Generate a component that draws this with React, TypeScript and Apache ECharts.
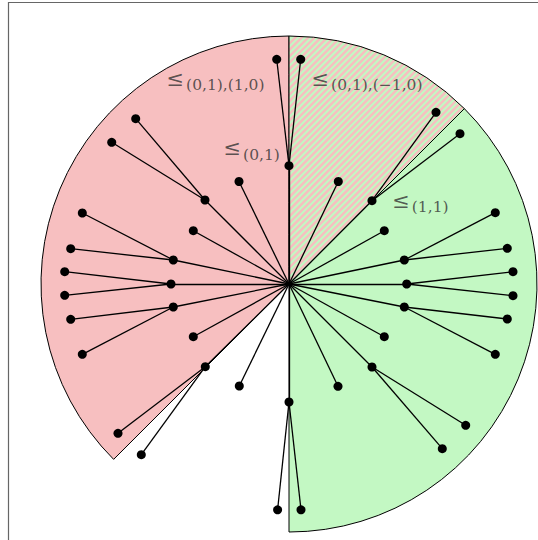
import React, { useEffect, useRef } from "react";
import * as echarts from "echarts";

// Tree nodes, in units relative to the root (y up)
const innerNodes: [number, number][] = [
  [1.177, 0], [1.153, 0.24], [0.953, 0.533], [0.83, 0.833], [0.493, 1.025],
  [0, 1.183], [-0.5, 1.025], [-0.84, 0.84], [-0.957, 0.533], [-1.157, 0.24],
  [-1.18, 0], [-1.157, -0.23], [-0.957, -0.527], [-0.837, -0.827], [-0.497, -1.02],
  [0, -1.18], [0.49, -1.023], [0.83, -0.83], [0.953, -0.527], [1.153, -0.23],
];
const leafParents: number[] = [0, 0, 1, 1, 3, 3, 5, 5, 7, 7, 9, 9, 10, 10, 11, 11, 13, 13, 15, 15, 17, 17, 19, 19];
const leafNodes: [number, number][] = [
  [2.24, 0.123], [2.24, -0.117],
  [2.183, 0.357], [2.063, 0.713],
  [1.71, 1.503], [1.47, 1.717],
  [0.117, 2.247], [-0.123, 2.247],
  [-1.533, 1.653], [-1.773, 1.417],
  [-2.067, 0.71], [-2.183, 0.353],
  [-2.243, 0.123], [-2.243, -0.113],
  [-2.183, -0.353], [-2.067, -0.703],
  [-1.71, -1.493], [-1.477, -1.707],
  [-0.114, -2.258], [0.12, -2.258],
  [1.533, -1.647], [1.767, -1.413],
  [2.063, -0.703], [2.183, -0.35],
];

// Regions (angles in degrees, counter-clockwise from +x)
const regionKinds = ["pink", "green", "hatched"];
const regionStartDeg = [90, -90, 45];
const regionEndDeg = [225, 45, 90];
const regionRadius = 2.48;

// Annotations
const labelTexts = [
  "{le|≤}{sub|(0,1),(1,0)}",
  "{le|≤}{sub|(0,1),(−1,0)}",
  "{le|≤}{sub|(0,1)}",
  "{le|≤}{sub|(1,1)}",
];
const labelX = [-1.225, 0.225, -0.655, 1.032];
const labelY = [2.05, 2.05, 1.355, 0.828];

const PINK = "#f7bfc0";
const GREEN = "#c3f8c3";

export default function App() {
  const ref = useRef<HTMLDivElement>(null);
  useEffect(() => {
    if (!ref.current) return;
    const chart = echarts.init(ref.current, null, { renderer: "svg" });

    const edges: any[] = [];
    innerNodes.forEach((n) => edges.push({ coords: [[0, 0], n] }));
    leafNodes.forEach((n, i) => edges.push({ coords: [innerNodes[leafParents[i]], n] }));

    const stripePeriod = 0.064;
    const stripeWidth = 0.034;

    const renderRegion = (params: any, api: any) => {
      const i = params.dataIndex;
      const c = api.coord([0, 0]);
      const r = api.size([regionRadius, 0])[0];
      const shape = {
        cx: c[0], cy: c[1], r, r0: 0,
        startAngle: (-regionEndDeg[i] * Math.PI) / 180,
        endAngle: (-regionStartDeg[i] * Math.PI) / 180,
        clockwise: true,
      };
      const kind = regionKinds[i];
      if (kind !== "hatched") {
        return {
          type: "sector",
          shape,
          style: { fill: kind === "pink" ? PINK : GREEN, stroke: "#000", lineWidth: 1 },
        };
      }
      const R = regionRadius;
      const arcPt = (k: number) => {
        const x = (-k + Math.sqrt(2 * R * R - k * k)) / 2;
        return [x, x + k];
      };
      const children: any[] = [
        { type: "sector", shape, style: { fill: GREEN } },
      ];
      for (let k = 0.016; k + stripeWidth <= R; k += stripePeriod) {
        const k2 = k + stripeWidth;
        const pts: number[][] = [[0, k], [0, k2]];
        const a2 = arcPt(k2);
        const a1 = arcPt(k);
        const steps = 3;
        const t2 = Math.atan2(a2[1], a2[0]);
        const t1 = Math.atan2(a1[1], a1[0]);
        for (let s = 0; s <= steps; s++) {
          const t = t2 + ((t1 - t2) * s) / steps;
          pts.push([R * Math.cos(t), R * Math.sin(t)]);
        }
        children.push({
          type: "polygon",
          shape: { points: pts.map((p) => api.coord(p)) },
          style: { fill: PINK },
        });
      }
      children.push({
        type: "sector",
        shape,
        style: { fill: "none", stroke: "#000", lineWidth: 1 },
      });
      return { type: "group", children };
    };

    chart.setOption({
      animation: false,
      grid: { left: 0, top: 0, width: 538, height: 540 },
      xAxis: { type: "value", min: -2.89, max: 2.49, show: false },
      yAxis: { type: "value", min: -2.56, max: 2.84, show: false },
      graphic: [
        {
          type: "rect",
          shape: { x: 8.5, y: 2.5, width: 600, height: 600 },
          style: { fill: "none", stroke: "#666", lineWidth: 1.2 },
          z: 100,
        },
      ],
      series: [
        {
          type: "custom",
          coordinateSystem: "cartesian2d",
          renderItem: renderRegion,
          data: regionKinds.map((_, i) => [regionStartDeg[i] / 100, regionEndDeg[i] / 100]),
          clip: false,
          silent: true,
          z: 1,
        },
        {
          type: "lines",
          coordinateSystem: "cartesian2d",
          data: edges,
          lineStyle: { color: "#000", width: 1.3, opacity: 1, curveness: 0 },
          silent: true,
          z: 3,
        },
        {
          type: "scatter",
          data: [...innerNodes, ...leafNodes],
          symbol: "circle",
          symbolSize: 9,
          itemStyle: { color: "#000", opacity: 1 },
          silent: true,
          z: 4,
        },
        {
          type: "scatter",
          data: labelX.map((x, i) => [x, labelY[i]]),
          symbolSize: 0,
          silent: true,
          z: 5,
          label: {
            show: true,
            position: "right",
            distance: 0,
            formatter: (p: any) => labelTexts[p.dataIndex],
            rich: {
              le: {
                fontFamily: "DejaVu Serif",
                fontSize: 21,
                color: "#333",
                verticalAlign: "top",
                lineHeight: 22,
              },
              sub: {
                fontFamily: "DejaVu Serif",
                fontSize: 15.5,
                color: "#333",
                verticalAlign: "top",
                lineHeight: 16,
                padding: [9, 0, 0, 2],
              },
            },
          },
        },
      ],
    });
    return () => chart.dispose();
  }, []);
  return (
    <div
      ref={ref}
      style={{ position: "absolute", left: 0, top: 0, width: 538, height: 540 }}
    />
  );
}
